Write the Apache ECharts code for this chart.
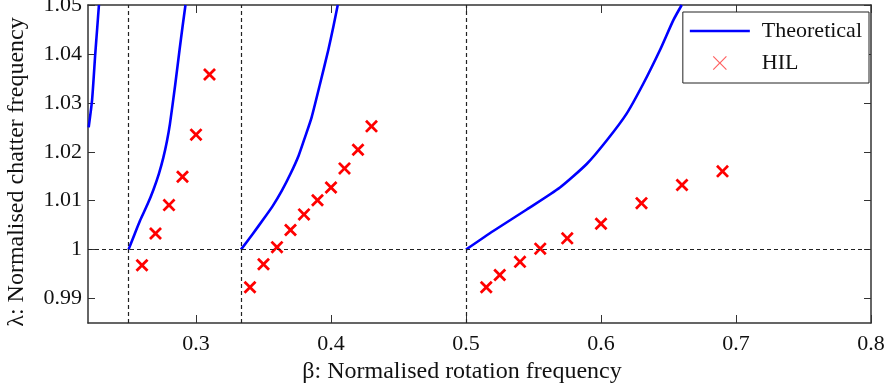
<!DOCTYPE html>
<html><head><meta charset="utf-8">
<script src="https://cdn.jsdelivr.net/npm/echarts@6/dist/echarts.min.js"></script>
<style>html,body{margin:0;padding:0;background:#fff}#c{width:888px;height:390px}</style>
</head><body><div id="c"></div>
<script>
// axis ticks
const xTicks = [0.3, 0.4, 0.5, 0.6, 0.7, 0.8];
const yTicks = [0.99, 1, 1.01, 1.02, 1.03, 1.04, 1.05];
// reference (dashed) lines
const refX = [0.25, 1 / 3, 0.5];
const refY = [1];
// theoretical branches [beta, lambda]
const theory1 = [[0.2205, 1.0250], [0.2230, 1.0305], [0.2254, 1.0401], [0.2268, 1.0452], [0.2281, 1.0500]];
const theory2 = [[0.25, 1.0], [0.2540, 1.0028], [0.2585, 1.0059], [0.2640, 1.0092], [0.2684, 1.0122], [0.2725, 1.0155],
  [0.2758, 1.0188], [0.2785, 1.0222], [0.2807, 1.0257], [0.2845, 1.0335], [0.2878, 1.0408], [0.2900, 1.0455], [0.2922, 1.0500]];
const theory3 = [[0.3333, 1.0], [0.3420, 1.0032], [0.3499, 1.0062], [0.3570, 1.0090], [0.3635, 1.0120], [0.3700, 1.0155],
  [0.3760, 1.0192], [0.3810, 1.0232], [0.3857, 1.0271], [0.3919, 1.0339], [0.3980, 1.0408], [0.4017, 1.0455], [0.4050, 1.0500]];
const theory4 = [[0.5, 1.0], [0.5202, 1.0038], [0.5450, 1.0082], [0.5696, 1.0127], [0.5894, 1.0175], [0.6042, 1.0223],
  [0.6190, 1.0278], [0.6313, 1.0339], [0.6437, 1.0408], [0.6536, 1.0469], [0.6598, 1.0500]];
// HIL measurements
const hilBeta = [0.26, 0.27, 0.28, 0.29, 0.30, 0.31,
  0.34, 0.35, 0.36, 0.37, 0.38, 0.39, 0.40, 0.41, 0.42, 0.43,
  0.515, 0.525, 0.54, 0.555, 0.575, 0.60, 0.63, 0.66, 0.69];
const hilLambda = [0.9968, 1.0033, 1.0091, 1.0149, 1.0235, 1.0358,
  0.9923, 0.9970, 1.0005, 1.0040, 1.0072, 1.0101, 1.0127, 1.0166, 1.0204, 1.0252,
  0.9923, 0.9948, 0.9975, 1.0002, 1.0023, 1.0053, 1.0095, 1.0132, 1.0160];

const FONT = 'Liberation Serif';
const XMIN = 0.22, XMAX = 0.8, YMIN = 0.985, YMAX = 1.05;
const crossPath = 'path://M0,1.5L1.5,0L5,3.5L8.5,0L10,1.5L6.5,5L10,8.5L8.5,10L5,6.5L1.5,10L0,8.5L3.5,5Z';
const thinCross = 'path://M0,0.6L0.6,0L5,4.4L9.4,0L10,0.6L5.6,5L10,9.4L9.4,10L5,5.6L0.6,10L0,9.4L4.4,5Z';
const lineIcon = 'path://M0,0H60V2.5H0Z';
const axisLine = { show: true, lineStyle: { color: '#333', width: 1.5 } };

function xAxisCfg(pos, main) {
  return {
    type: 'value', position: pos, min: XMIN, max: XMAX,
    axisLine: axisLine,
    axisTick: { show: true, inside: true, length: 8, customValues: xTicks, lineStyle: { color: '#333', width: 1 } },
    axisLabel: main ? { show: true, customValues: xTicks, margin: 10, fontFamily: FONT, fontSize: 22, color: '#111' } : { show: false },
    splitLine: { show: false },
    name: main ? 'β: Normalised rotation frequency' : '',
    nameLocation: 'middle', nameGap: 32,
    nameTextStyle: { fontFamily: FONT, fontSize: 24, color: '#111', padding: [0, 35, 0, 0] }
  };
}
function yAxisCfg(pos, main) {
  return {
    type: 'value', position: pos, min: YMIN, max: YMAX,
    axisLine: axisLine,
    axisTick: { show: true, inside: true, length: 7, customValues: yTicks, lineStyle: { color: '#333', width: 1 } },
    axisLabel: main ? { show: true, customValues: yTicks, margin: 6, fontFamily: FONT, fontSize: 22, color: '#111' } : { show: false },
    splitLine: { show: false },
    name: main ? 'λ: Normalised chatter frequency' : '',
    nameLocation: 'middle', nameGap: 59, nameRotate: 90,
    nameTextStyle: { fontFamily: FONT, fontSize: 24, color: '#111', padding: [0, 16, 0, 0] }
  };
}

const lineSeries = [theory1, theory2, theory3, theory4].map(d => ({
  name: 'Theoretical', type: 'line', data: d, showSymbol: false, symbol: 'none',
  smooth: 0.2, lineStyle: { color: '#0000ff', width: 2.6, join: 'round' }, itemStyle: { color: '#0000ff' },
  z: 3, animation: false, clip: true
}));

const option = {
  animation: false,
  backgroundColor: '#fff',
  grid: { left: 88, right: 17, top: 5, bottom: 67, containLabel: false, outerBoundsMode: 'none' },
  xAxis: [xAxisCfg('bottom', true), xAxisCfg('top', false)],
  yAxis: [yAxisCfg('left', true), yAxisCfg('right', false)],
  legend: {
    data: [{ name: 'Theoretical', icon: lineIcon, itemStyle: { color: '#0000ff' } },
           { name: 'HIL', icon: thinCross, itemStyle: { color: '#ff6060' } }],
    orient: 'vertical', right: 19, top: 12,
    itemWidth: 60, itemHeight: 14, itemGap: 10,
    padding: [8, 7, 9, 7],
    borderColor: '#222', borderWidth: 1, backgroundColor: '#fff',
    textStyle: { fontFamily: FONT, fontSize: 22, color: '#111', padding: [0, 0, 0, 7] },
    z: 10
  },
  series: [
    {
      name: 'ref', type: 'line', data: [], silent: true, z: 1,
      markLine: {
        silent: true, symbol: ['none', 'none'], animation: false, precision: 8,
        label: { show: false },
        lineStyle: { color: '#222', width: 1.2, type: [4, 3] },
        data: refX.map(v => ({ xAxis: v })).concat(refY.map(v => ({ yAxis: v })))
      }
    },
    ...lineSeries,
    {
      name: 'HIL', type: 'scatter', symbol: crossPath, symbolSize: 13, symbolKeepAspect: true,
      data: hilBeta.map((b, i) => [b, hilLambda[i]]),
      itemStyle: { color: '#ff0000', opacity: 1 }, z: 4
    }
  ]
};
echarts.init(document.getElementById('c'), null, { renderer: 'canvas' }).setOption(option);
</script></body></html>
